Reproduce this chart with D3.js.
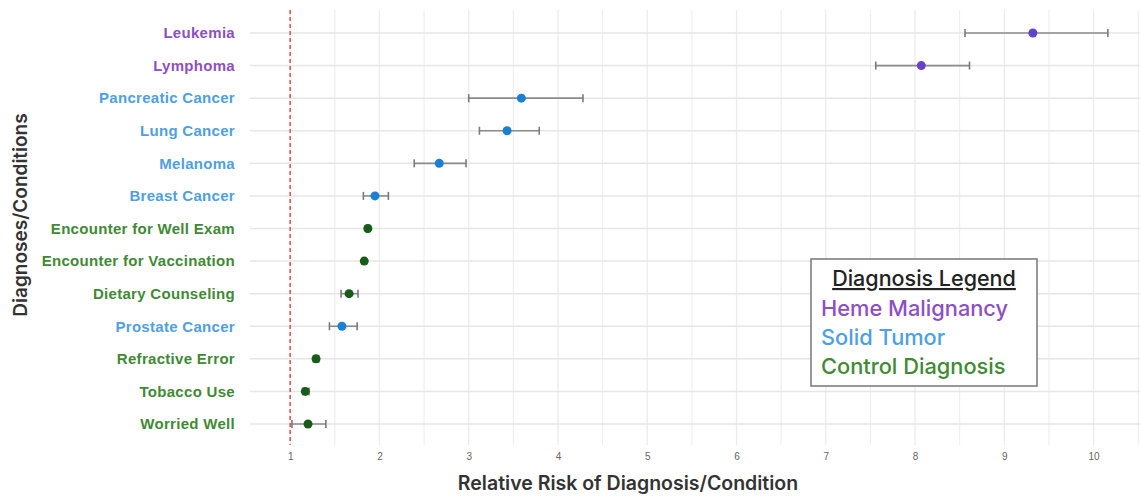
<!DOCTYPE html>
<html>
<head>
<meta charset="utf-8">
<script src="https://cdn.jsdelivr.net/npm/d3@7"></script>
<style>
  html, body { margin: 0; padding: 0; background: #fff; }
  svg { display: block; font-family: Inter, "Open Sans", sans-serif; }
</style>
</head>
<body>
<svg id="chart" width="1140" height="496"></svg>
<script>
// Relative risk estimates with confidence intervals, top row first
const conditions = [
  "Leukemia", "Lymphoma", "Pancreatic Cancer", "Lung Cancer", "Melanoma",
  "Breast Cancer", "Encounter for Well Exam", "Encounter for Vaccination",
  "Dietary Counseling", "Prostate Cancer", "Refractive Error", "Tobacco Use", "Worried Well"
];
const groups = [
  "heme", "heme", "solid", "solid", "solid",
  "solid", "control", "control",
  "control", "solid", "control", "control", "control"
];
const relativeRisk = [9.32, 8.07, 3.59, 3.43, 2.67, 1.95, 1.87, 1.83, 1.66, 1.58, 1.29, 1.17, 1.20];
const ciLower      = [8.56, 7.56, 3.00, 3.12, 2.39, 1.82, 1.85, 1.81, 1.57, 1.44, 1.26, 1.14, 1.02];
const ciUpper      = [10.16, 8.61, 4.28, 3.79, 2.97, 2.10, 1.89, 1.85, 1.76, 1.75, 1.32, 1.21, 1.40];
const xTicks = [1, 2, 3, 4, 5, 6, 7, 8, 9, 10];
const legendGroups = ["heme", "solid", "control"];
const legendLabels = ["Heme Malignancy", "Solid Tumor", "Control Diagnosis"];

const labelColor = { heme: "#8d4fc4", solid: "#4f9fe3", control: "#3f8a34" };
const pointColor = { heme: "#6243c9", solid: "#1b7fd3", control: "#175c18" };

const svg = d3.select("#chart");
const panel = { left: 250, right: 1140, top: 10, bottom: 445 };

const x = d3.scaleLinear().domain([0.55, 10.52]).range([panel.left, panel.right]);
const y = d3.scalePoint().domain(conditions).range([33, 424]);

const data = conditions.map((c, i) => ({
  name: c, group: groups[i], rr: relativeRisk[i], lo: ciLower[i], hi: ciUpper[i]
}));

// grid: major at integers, minor at halves
const gridVals = d3.range(1, 10.51, 0.5);
svg.append("g").selectAll("line").data(gridVals).join("line")
  .attr("x1", d => x(d)).attr("x2", d => x(d))
  .attr("y1", panel.top).attr("y2", panel.bottom)
  .attr("stroke", "#ececec").attr("stroke-width", d => Number.isInteger(d) ? 1.3 : 1);
svg.append("g").selectAll("line").data(conditions).join("line")
  .attr("x1", panel.left).attr("x2", panel.right)
  .attr("y1", d => y(d)).attr("y2", d => y(d))
  .attr("stroke", "#e6e6e6").attr("stroke-width", 1.5);

// reference line at RR = 1
svg.append("line")
  .attr("x1", x(1)).attr("x2", x(1))
  .attr("y1", panel.top).attr("y2", panel.bottom)
  .attr("stroke", "#d9534f").attr("stroke-width", 1.5).attr("stroke-dasharray", "4,3");

// x axis
const xAxis = svg.append("g").attr("transform", `translate(0,${panel.bottom})`)
  .call(d3.axisBottom(x).tickValues(xTicks).tickSize(0).tickPadding(8).tickFormat(d3.format("d")));
xAxis.select(".domain").remove();
xAxis.selectAll("text").attr("fill", "#666").attr("font-size", 10);

// y axis with coloured category labels
const yAxis = svg.append("g").attr("transform", `translate(${panel.left},0)`)
  .call(d3.axisLeft(y).tickSize(0).tickPadding(15));
yAxis.select(".domain").remove();
yAxis.selectAll("text")
  .attr("font-size", 15).attr("font-weight", 600).attr("letter-spacing", 0.3)
  .attr("fill", (d, i) => labelColor[groups[i]]);

// confidence intervals
const ci = svg.append("g").selectAll("g").data(data).join("g")
  .attr("transform", d => `translate(0,${y(d.name)})`);
ci.append("line")
  .attr("x1", d => x(d.lo)).attr("x2", d => x(d.hi))
  .attr("stroke", "#8c8c8c").attr("stroke-width", 1.6);
ci.selectAll("line.cap").data(d => [d.lo, d.hi]).join("line").attr("class", "cap")
  .attr("x1", v => x(v)).attr("x2", v => x(v))
  .attr("y1", -4).attr("y2", 4)
  .attr("stroke", "#7a7a7a").attr("stroke-width", 1.6);
ci.append("circle")
  .attr("cx", d => x(d.rr)).attr("r", 4.5)
  .attr("fill", d => pointColor[d.group]);

// axis titles
svg.append("text")
  .attr("x", 628).attr("y", 490)
  .attr("text-anchor", "middle").attr("font-size", 19.5).attr("font-weight", 600)
  .attr("fill", "#333").text("Relative Risk of Diagnosis/Condition");
svg.append("text")
  .attr("transform", "translate(27,215) rotate(-90)")
  .attr("text-anchor", "middle").attr("font-size", 19).attr("font-weight", 600)
  .attr("fill", "#333").text("Diagnoses/Conditions");

// legend box
const lg = svg.append("g");
lg.append("rect")
  .attr("x", 811).attr("y", 259).attr("width", 226).attr("height", 127)
  .attr("fill", "#fff").attr("stroke", "#777").attr("stroke-width", 1.5);
lg.append("text")
  .attr("x", 924).attr("y", 286).attr("text-anchor", "middle")
  .attr("font-size", 21.5).attr("font-weight", 500).attr("fill", "#222")
  .attr("text-decoration", "underline").text("Diagnosis Legend");
lg.selectAll("text.item").data(legendGroups).join("text").attr("class", "item")
  .attr("x", 821).attr("y", (d, i) => 316 + i * 29)
  .attr("font-size", 21.8).attr("font-weight", 500)
  .attr("fill", d => labelColor[d])
  .text((d, i) => legendLabels[i]);
</script>
</body>
</html>
